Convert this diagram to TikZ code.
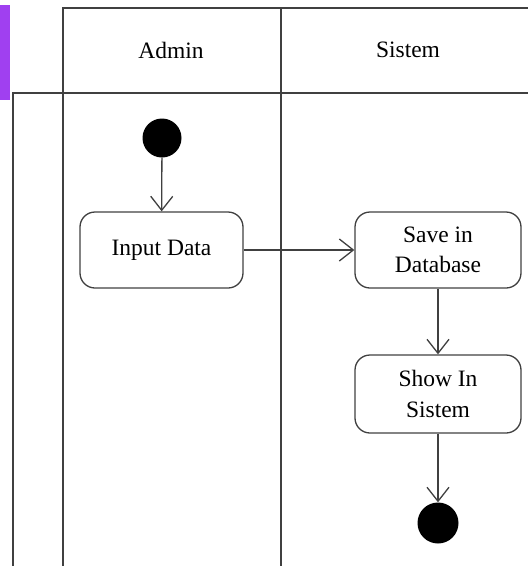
\documentclass[tikz,border=0pt]{standalone}
\usepackage{fontspec}
\setmainfont{Liberation Serif}
\usetikzlibrary{arrows.meta}
\definecolor{lane}{HTML}{404040}
\definecolor{artpurple}{HTML}{A040F0}
\tikzset{
  lanestyle/.style={draw=lane, line width=1.5pt},
  actbox/.style={draw=lane, line width=1.3pt, rounded corners=15pt, minimum width=163pt, minimum height=76pt, align=center, font=\fontsize{23.5}{30.5}\selectfont, inner sep=2pt},
  startdot/.style={circle, fill=black, minimum size=39pt, inner sep=0pt},
  flow/.style={draw=lane, line width=1.3pt, -{Straight Barb[length=14pt, width=22pt, line width=1.3pt]}},
  lanetitle/.style={font=\fontsize{23.5}{28}\selectfont}
}
\begin{document}
\begin{tikzpicture}[x=1pt, y=-1pt]
\useasboundingbox (0,0) rectangle (528,566);
% cropped leftover at the left edge
\fill[artpurple] (0,5) rectangle (10,100);
% swimlanes
\draw[lanestyle] (63,566) -- (63,8) -- (528,8);
\draw[lanestyle] (281,8) -- (281,566);
\draw[lanestyle] (13,566) -- (13,93) -- (528,93);
\node[lanetitle] (admin) at (171,50) {Admin};
\node[lanetitle] (sistem) at (408,50) {Sistem};
% nodes
\node[startdot] (start) at (162,138) {};
\node[actbox] (input) at (161.5,250) {Input Data};
\node[actbox, minimum width=166pt] (save) at (438,250) {Save in\\Database};
\node[actbox, minimum width=166pt, minimum height=78pt] (show) at (438,394) {Show In\\Sistem};
\node[startdot, minimum size=41pt] (end) at (438,523) {};
% flows
\draw[flow] (start) -- (input);
\draw[flow] (input) -- (save);
\draw[flow] (save) -- (show);
\draw[flow] (show) -- (end);
\end{tikzpicture}
\end{document}
